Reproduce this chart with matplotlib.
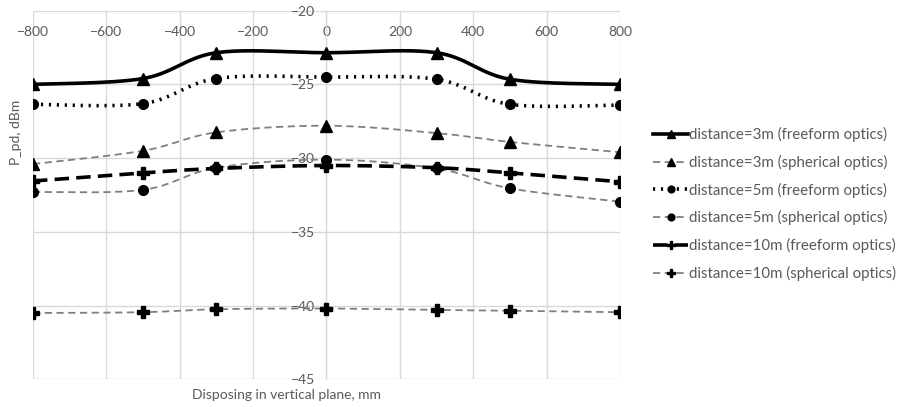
import matplotlib
matplotlib.use('Agg')
import matplotlib.pyplot as plt
import numpy as np

plt.rcParams['font.family'] = ['Lato', 'DejaVu Sans']

TXT = '#595959'
GRID = '#d9d9d9'
SPH = '#7f7f7f'

x_mm = [-800, -500, -300, 0, 300, 500, 800]

ff_3m = [-25.0, -24.6, -22.85, -22.85, -22.85, -24.65, -25.0]
sp_3m = [-30.4, -29.5, -28.25, -27.8, -28.3, -28.9, -29.6]
ff_5m = [-26.35, -26.3, -24.6, -24.5, -24.65, -26.35, -26.4]
sp_5m = [-32.3, -32.15, -30.65, -30.1, -30.7, -32.05, -32.95]
ff_10m = [-31.55, -31.0, -30.7, -30.5, -30.65, -31.0, -31.6]
sp_10m = [-40.5, -40.45, -40.25, -40.2, -40.3, -40.35, -40.45]

labels = ['distance=3m (freeform optics)', 'distance=3m (spherical optics)',
          'distance=5m (freeform optics)', 'distance=5m (spherical optics)',
          'distance=10m (freeform optics)', 'distance=10m (spherical optics)']


def smooth(xs, ys, n=40):
    # excel-like smoothed line: bezier segments, catmull-rom control points
    p = np.column_stack([xs, ys]).astype(float)
    out = []
    for i in range(len(p) - 1):
        p0 = p[i - 1] if i > 0 else p[i]
        p1, p2 = p[i], p[i + 1]
        p3 = p[i + 2] if i + 2 < len(p) else p[i + 1]
        c1 = p1 + (p2 - p0) / 6.0
        c2 = p2 - (p3 - p1) / 6.0
        t = np.linspace(0, 1, n)[:, None]
        seg = ((1 - t) ** 3) * p1 + 3 * ((1 - t) ** 2) * t * c1 + 3 * (1 - t) * t ** 2 * c2 + t ** 3 * p2
        out.append(seg if i == 0 else seg[1:])
    s = np.vstack(out)
    return s[:, 0], s[:, 1]


fig = plt.figure(figsize=(9.12, 4.07), dpi=100)
ax = fig.add_axes([33 / 912, 1 - 379.3 / 407, (620 - 33) / 912, (379.3 - 10.7) / 407])

series = [
    (ff_3m, dict(color='black', lw=2.6, ls='-'), '^', 9),
    (sp_3m, dict(color=SPH, lw=1.3, ls=(0, (4, 2.5))), '^', 8),
    (ff_5m, dict(color='black', lw=2.6, ls=(0, (0.6, 1.6))), 'o', 7),
    (sp_5m, dict(color=SPH, lw=1.3, ls=(0, (4, 2.5))), 'o', 7),
    (ff_10m, dict(color='black', lw=2.6, ls=(0, (4, 2))), 'P', 8.5),
    (sp_10m, dict(color=SPH, lw=1.3, ls=(0, (4, 2.5))), 'P', 8.5),
]

handles = []
for ys, st, mk, ms in series:
    sx, sy = smooth(x_mm, ys)
    ax.plot(sx, sy, zorder=3, **st)
    ax.plot(x_mm, ys, ls='none', marker=mk, ms=ms, color='black', zorder=4)
    h, = ax.plot([], [], marker=mk, ms=ms * 0.7, mfc='black', mec='black', **st)
    handles.append(h)

ax.set_xlim(-800, 800)
ax.set_ylim(-45, -20)
ax.set_xticks(np.arange(-800, 801, 200))
ax.set_yticks(np.arange(-45, -19, 5))
ax.grid(True, color=GRID, lw=1)
ax.set_axisbelow(True)
for s in ['top', 'bottom', 'right']:
    ax.spines[s].set_visible(False)
ax.spines['left'].set_position(('data', 0))
ax.spines['left'].set_color(GRID)
ax.tick_params(axis='x', top=False, bottom=False, labeltop=True, labelbottom=False,
               pad=-23, labelsize=10, labelcolor=TXT)
ax.tick_params(axis='y', length=0, pad=8, labelsize=10, labelcolor=TXT)

fig.text(16 / 912, 1 - 132 / 407, 'P_pd, dBm', rotation=90, ha='center', va='center',
         fontsize=10, color=TXT)
fig.text(286 / 912, 1 - 395 / 407, 'Disposing in vertical plane, mm', ha='center', va='center',
         fontsize=10, color=TXT)

fig.legend(handles, labels, loc='center left', bbox_to_anchor=(640 / 912, 1 - 204 / 407),
           frameon=False, fontsize=10.8, labelcolor=TXT, handlelength=2.3, handletextpad=0.1,
           labelspacing=0.85)

fig.savefig('out.png', dpi=100)
